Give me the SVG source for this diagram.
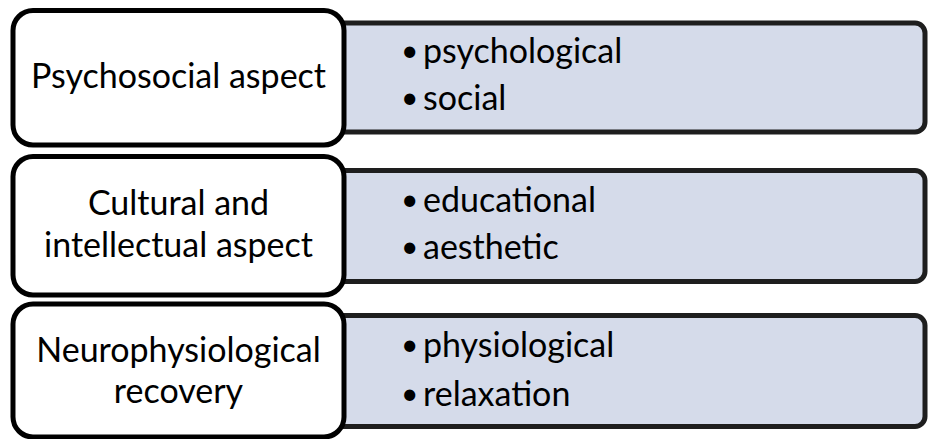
<svg xmlns="http://www.w3.org/2000/svg" width="928" height="439" viewBox="0 0 928 439">
  <style>
    .detail { fill: #d5dbea; stroke: #1e1e1e; stroke-width: 5; }
    .head { fill: #ffffff; stroke: #000000; stroke-width: 5; }
    text { font-family: Lato, "Liberation Sans", sans-serif; font-size: 34px; fill: #000000; }
    .c { text-anchor: middle; }
    .dot { font-size: 30px; }
  </style>

  <!-- Row 1 -->
  <g id="psychosocial-details">
    <rect class="detail" x="300" y="23" width="625" height="109" rx="10"/>
    <text class="dot" x="401" y="61">•</text>
    <text x="423" y="63">psychological</text>
    <text class="dot" x="401" y="108">•</text>
    <text x="423" y="110">social</text>
  </g>
  <g id="psychosocial">
    <rect class="head" x="13" y="10.5" width="331" height="134.5" rx="20"/>
    <text class="c" x="178.5" y="88">Psychosocial aspect</text>
  </g>

  <!-- Row 2 -->
  <g id="cultural-details">
    <rect class="detail" x="300" y="170.5" width="625" height="111" rx="10"/>
    <text class="dot" x="401" y="210">•</text>
    <text x="423" y="212">educational</text>
    <text class="dot" x="401" y="257">•</text>
    <text x="423" y="259">aesthetic</text>
  </g>
  <g id="cultural">
    <rect class="head" x="13" y="156.5" width="331" height="138.5" rx="20"/>
    <text class="c" x="178.5" y="215">Cultural and</text>
    <text class="c" x="178.5" y="257">intellectual aspect</text>
  </g>

  <!-- Row 3 -->
  <g id="neuro-details">
    <rect class="detail" x="300" y="315.5" width="625" height="111" rx="10"/>
    <text class="dot" x="401" y="355">•</text>
    <text x="423" y="357">physiological</text>
    <text class="dot" x="401" y="404">•</text>
    <text x="423" y="406">relaxation</text>
  </g>
  <g id="neuro">
    <rect class="head" x="13" y="304" width="331" height="133" rx="20"/>
    <text class="c" x="178.5" y="362">Neurophysiological</text>
    <text class="c" x="178.5" y="403">recovery</text>
  </g>

  <g id="connectors"/>
</svg>
